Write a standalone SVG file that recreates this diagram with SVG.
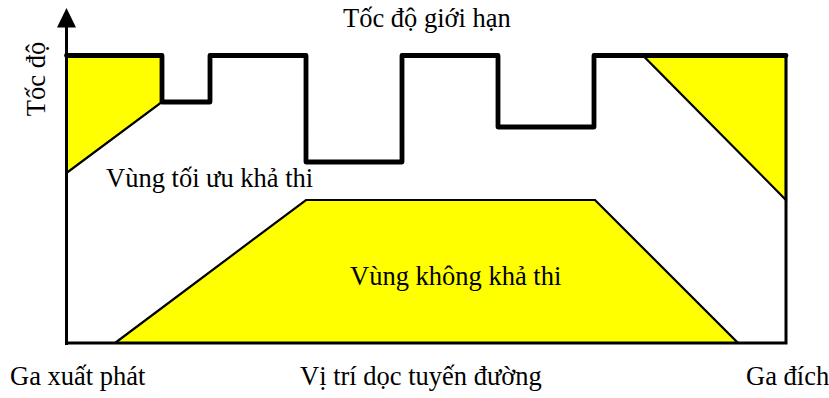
<svg xmlns="http://www.w3.org/2000/svg" width="829" height="398" viewBox="0 0 829 398">
  <style>
    .lbl { font-family: "Liberation Serif", "Times New Roman", serif; font-size: 26.5px; fill: #000; }
    .zone { fill: #FFFF00; stroke: #000; stroke-width: 2.2; stroke-linejoin: miter; }
    .axis { fill: none; stroke: #000; stroke-width: 3; }
    .limit { fill: none; stroke: #000; stroke-width: 4.8; stroke-linejoin: round; stroke-linecap: round; }
  </style>
  <rect width="829" height="398" fill="#fff"/>

  <g id="zone-left">
    <polygon class="zone" points="66.5,55.5 162,55.5 162,102 66.5,173"/>
  </g>
  <g id="zone-right">
    <polygon class="zone" points="643,55.5 786,55.5 786,200"/>
  </g>
  <g id="zone-infeasible">
    <polygon class="zone" points="115,343 306,200 595,200 738,343"/>
    <text class="lbl" x="350" y="285">Vùng không khả thi</text>
  </g>

  <g id="connectors">
    <line class="axis" x1="66.5" y1="345" x2="66.5" y2="24"/>
    <polygon points="66.5,8 57,27.5 76,27.5" fill="#000"/>
    <polyline class="axis" points="65,343 786,343 786,55"/>
  </g>

  <g id="speed-limit">
    <polyline class="limit" points="66.5,55.5 162,55.5 162,102 210,102 210,55.5 306,55.5 306,162 402,162 402,55.5 498,55.5 498,127 594,127 594,55.5 786,55.5"/>
    <text class="lbl" x="343" y="27">Tốc độ giới hạn</text>
  </g>

  <g id="zone-feasible">
    <text class="lbl" x="106" y="187">Vùng tối ưu khả thi</text>
  </g>

  <g id="labels">
    <text class="lbl" transform="translate(45,79) rotate(-90)" text-anchor="middle">Tốc độ</text>
    <text class="lbl" x="10" y="385">Ga xuất phát</text>
    <text class="lbl" x="300" y="385">Vị trí dọc tuyến đường</text>
    <text class="lbl" x="746" y="385">Ga đích</text>
  </g>
</svg>
